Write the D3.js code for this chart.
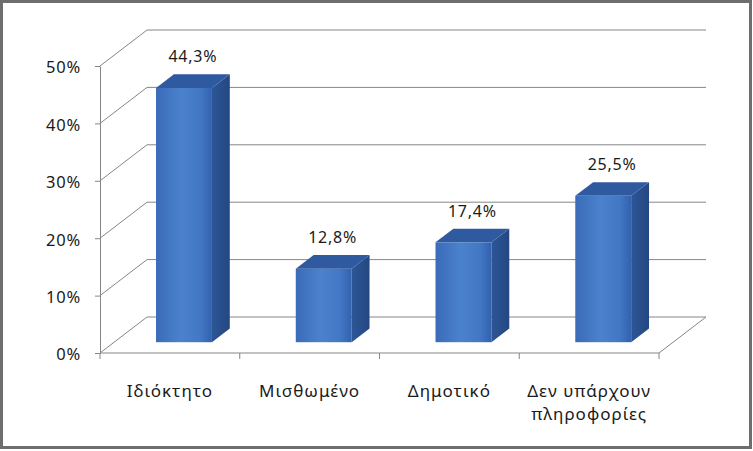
<html>
<head>
<meta charset="utf-8">
<style>
  body { margin: 0; background: #ffffff; }
  svg text { font-family: "Noto Sans", "DejaVu Sans", sans-serif; fill: #1a1a1a; }
  .axis path, .axis line { stroke: #868686; }
  .axis text { font-size: 16.5px; letter-spacing: 0.8px; }
</style>
</head>
<body>
<svg id="chart" width="753" height="451" xmlns="http://www.w3.org/2000/svg"></svg>
<script src="https://cdn.jsdelivr.net/npm/d3@7"></script>
<script>
// data
let categories = [["Ιδιόκτητο"], ["Μισθωμένο"], ["Δημοτικό"], ["Δεν υπάρχουν", "πληροφορίες"]]
let values = [44.3, 12.8, 17.4, 25.5]
let yTicks = [0, 10, 20, 30, 40, 50]

let svg = d3.select("#chart")

// 3d offset of the back wall
let dx = 47, dy = -36
let d1 = 0.3, d2 = 0.68   // bar front / back depth

let xScale = d3.scaleBand().domain(d3.range(values.length)).range([100, 659])
let yScale = d3.scaleLinear().domain([0, 50]).range([353, 66])

// frame
svg.append("rect")
    .attr("x", 1.5).attr("y", 1.5).attr("width", 749).attr("height", 446)
    .attr("fill", "white").attr("stroke", "#6e6e6e").attr("stroke-width", 3)

let defs = svg.append("defs")
let front = defs.append("linearGradient").attr("id", "front")
front.append("stop").attr("offset", "0%").attr("stop-color", "#3a6bb8")
front.append("stop").attr("offset", "45%").attr("stop-color", "#4b82cd")
front.append("stop").attr("offset", "80%").attr("stop-color", "#4177c4")
front.append("stop").attr("offset", "100%").attr("stop-color", "#3361ad")
let side = defs.append("linearGradient").attr("id", "side")
side.append("stop").attr("offset", "0%").attr("stop-color", "#2d5697")
side.append("stop").attr("offset", "100%").attr("stop-color", "#244781")

let grid = svg.append("g")
let x0 = xScale.range()[0], x1 = xScale.range()[1]

// back wall gridlines + side wall diagonals
yTicks.forEach(t => {
    let y = yScale(t)
    grid.append("line")
        .attr("x1", x0 + dx).attr("x2", x1 + dx)
        .attr("y1", y + dy).attr("y2", y + dy)
        .attr("stroke", "#868686")
    grid.append("line")
        .attr("x1", x0).attr("y1", y)
        .attr("x2", x0 + dx).attr("y2", y + dy)
        .attr("stroke", "#868686")
})
// floor right edge
grid.append("line")
    .attr("x1", x1).attr("y1", yScale(0))
    .attr("x2", x1 + dx).attr("y2", yScale(0) + dy)
    .attr("stroke", "#868686")

// y axis
let yAxis = d3.axisLeft(yScale).tickValues(yTicks).tickSize(5).tickSizeOuter(0)
    .tickFormat(d => d + "%")
svg.append("g").attr("class", "axis")
    .attr("transform", `translate(${x0},0)`)
    .call(yAxis)
    .call(g => g.selectAll("text").attr("x", -19).attr("dy", "0.42em"))

// x axis (boundary ticks)
let bounds = d3.range(values.length).map(i => xScale(i)).concat([x1])
let xAxis = svg.append("g").attr("class", "axis")
xAxis.append("line")
    .attr("x1", x0).attr("x2", x1)
    .attr("y1", yScale(0)).attr("y2", yScale(0))
xAxis.selectAll(".tk").data(bounds).enter().append("line")
    .attr("x1", d => d).attr("x2", d => d)
    .attr("y1", yScale(0)).attr("y2", yScale(0) + 6)

// category labels
let lab = svg.append("g").selectAll("text").data(categories).enter().append("text")
    .attr("text-anchor", "middle")
    .style("font-size", "17px")
    .style("letter-spacing", "1px")
    .attr("x", (d, i) => xScale(i) + xScale.bandwidth() / 2)
    .attr("y", 397)
lab.selectAll("tspan").data(d => d).enter().append("tspan")
    .attr("x", function () { return d3.select(this.parentNode).attr("x") })
    .attr("dy", (d, i) => i == 0 ? 0 : 23)
    .text(d => d)

// bars
let barW = xScale.bandwidth() * 0.4
let bars = svg.append("g").selectAll("g").data(values).enter().append("g")

function fx(i) { return xScale(i) + xScale.bandwidth() / 2 - barW / 2 + d1 * dx }
let depthX = (d2 - d1) * dx, depthY = (d2 - d1) * dy

bars.append("rect")
    .attr("x", (d, i) => fx(i))
    .attr("y", d => yScale(d) + d1 * dy)
    .attr("width", barW)
    .attr("height", d => yScale(0) - yScale(d))
    .attr("fill", "url(#front)")

bars.append("path")
    .attr("d", (d, i) => {
        let xr = fx(i) + barW, yt = yScale(d) + d1 * dy, yb = yScale(0) + d1 * dy
        return `M${xr},${yt}L${xr + depthX},${yt + depthY}L${xr + depthX},${yb + depthY}L${xr},${yb}Z`
    })
    .attr("fill", "url(#side)")

bars.append("path")
    .attr("d", (d, i) => {
        let xl = fx(i), yt = yScale(d) + d1 * dy
        return `M${xl},${yt}L${xl + barW},${yt}L${xl + barW + depthX},${yt + depthY}L${xl + depthX},${yt + depthY}Z`
    })
    .attr("fill", "#2f5aa0")

// value labels
bars.append("text")
    .attr("text-anchor", "middle")
    .style("font-size", "16px")
    .style("letter-spacing", "0.8px")
    .attr("x", (d, i) => fx(i) + barW / 2 + depthX / 2)
    .attr("y", d => yScale(d) + d1 * dy + depthY - 12)
    .text(d => d.toFixed(1).replace(".", ",") + "%")
</script>
</body>
</html>
